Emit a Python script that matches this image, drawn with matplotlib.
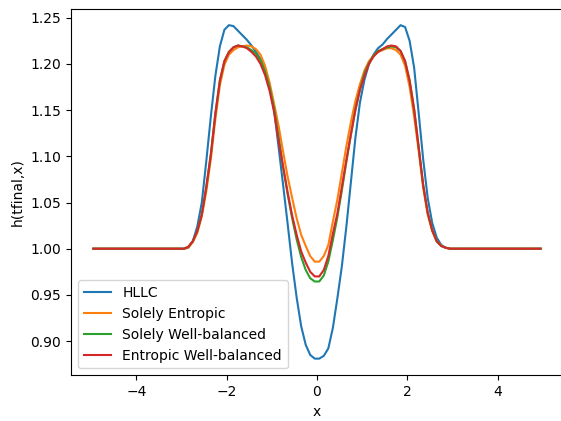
import matplotlib
matplotlib.use("Agg")
import matplotlib.pyplot as plt

# cell centres (flat parts at the ends only need the two end points)
x = [-4.95,
     -2.95, -2.85, -2.75, -2.65, -2.55, -2.45, -2.35, -2.25, -2.15, -2.05,
     -1.95, -1.85, -1.75, -1.65, -1.55, -1.45, -1.35, -1.25, -1.15, -1.05,
     -0.95, -0.85, -0.75, -0.65, -0.55, -0.45, -0.35, -0.25, -0.15, -0.05,
     0.05, 0.15, 0.25, 0.35, 0.45, 0.55, 0.65, 0.75, 0.85, 0.95,
     1.05, 1.15, 1.25, 1.35, 1.45, 1.55, 1.65, 1.75, 1.85, 1.95,
     2.05, 2.15, 2.25, 2.35, 2.45, 2.55, 2.65, 2.75, 2.85, 2.95,
     4.95]

h_hllc = [1.000,
          1.000, 1.001, 1.008, 1.024, 1.050, 1.095, 1.143, 1.187, 1.219, 1.237,
          1.242, 1.241, 1.236, 1.231, 1.226, 1.220, 1.213, 1.205, 1.192, 1.176,
          1.150, 1.110, 1.069, 1.027, 0.984, 0.947, 0.916, 0.896, 0.885, 0.881,
          0.881, 0.884, 0.892, 0.914, 0.946, 0.981, 1.024, 1.072, 1.120, 1.158,
          1.183, 1.200, 1.210, 1.217, 1.221, 1.227, 1.232, 1.237, 1.242, 1.240,
          1.225, 1.196, 1.147, 1.097, 1.055, 1.028, 1.012, 1.004, 1.001, 1.000,
          1.000]

h_entropic = [1.000,
              1.000, 1.001, 1.007, 1.017, 1.035, 1.062, 1.097, 1.140, 1.177, 1.199,
              1.210, 1.215, 1.218, 1.219, 1.220, 1.219, 1.216, 1.210, 1.198, 1.180,
              1.157, 1.133, 1.105, 1.078, 1.055, 1.033, 1.015, 1.003, 0.992, 0.986,
              0.986, 0.992, 1.004, 1.029, 1.053, 1.082, 1.111, 1.137, 1.160, 1.178,
              1.193, 1.203, 1.209, 1.213, 1.215, 1.217, 1.217, 1.215, 1.210, 1.198,
              1.175, 1.143, 1.106, 1.066, 1.037, 1.019, 1.008, 1.003, 1.001, 1.000,
              1.000]

h_wb = [1.000,
        1.000, 1.002, 1.008, 1.019, 1.037, 1.067, 1.102, 1.146, 1.182, 1.203,
        1.213, 1.218, 1.220, 1.219, 1.218, 1.215, 1.211, 1.204, 1.192, 1.175,
        1.152, 1.121, 1.088, 1.059, 1.033, 1.010, 0.991, 0.977, 0.968, 0.9645,
        0.9645, 0.971, 0.986, 1.009, 1.034, 1.063, 1.094, 1.123, 1.151, 1.172,
        1.190, 1.201, 1.209, 1.214, 1.216, 1.218, 1.219, 1.218, 1.214, 1.203,
        1.182, 1.151, 1.110, 1.069, 1.039, 1.020, 1.008, 1.003, 1.001, 1.000,
        1.000]

h_ewb = [1.000,
         1.000, 1.002, 1.008, 1.019, 1.037, 1.067, 1.102, 1.146, 1.182, 1.203,
         1.213, 1.218, 1.220, 1.219, 1.217, 1.213, 1.208, 1.200, 1.188, 1.171,
         1.148, 1.117, 1.089, 1.061, 1.036, 1.015, 0.997, 0.985, 0.975, 0.970,
         0.970, 0.977, 0.992, 1.016, 1.038, 1.067, 1.096, 1.124, 1.150, 1.172,
         1.187, 1.200, 1.208, 1.213, 1.216, 1.219, 1.220, 1.219, 1.214, 1.203,
         1.182, 1.151, 1.110, 1.069, 1.039, 1.020, 1.008, 1.003, 1.001, 1.000,
         1.000]

fig = plt.figure(figsize=(5.61, 4.21), dpi=100)
# the original was cropped, the right spine falls just outside the picture
ax = fig.add_axes([71/561, 1 - 375.3/421, 492/561, (375.3 - 8.5)/421])

ax.plot(x, h_hllc, label="HLLC")
ax.plot(x, h_entropic, label="Solely Entropic")
ax.plot(x, h_wb, label="Solely Well-balanced")
ax.plot(x, h_ewb, label="Entropic Well-balanced")

ax.set_xlabel("x")
ax.set_ylabel("h(tfinal,x)")
ax.legend(loc="lower left")

plt.savefig("out.png", dpi=100)
